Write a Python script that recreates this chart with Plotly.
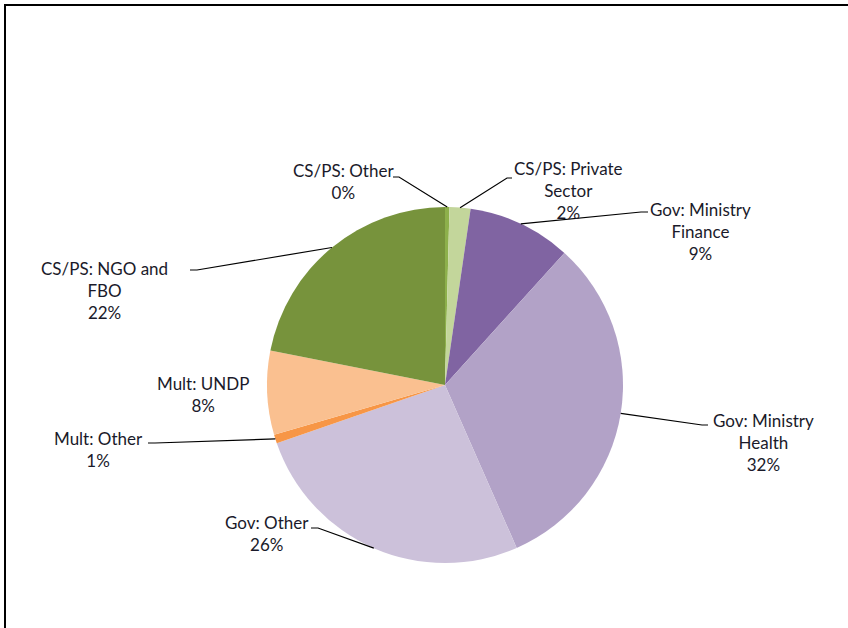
import math
import plotly.graph_objects as go

# Slice data (clockwise from 12 o'clock)
labels = ["CS/PS: Other", "CS/PS: Private Sector", "Gov: Ministry Finance",
          "Gov: Ministry Health", "Gov: Other", "Mult: Other", "Mult: UNDP",
          "CS/PS: NGO and FBO"]
values = [0.4, 1.9, 9.4, 31.7, 26.3, 0.8, 7.6, 21.9]
label_text = ["CS/PS: Other<br>0%", "CS/PS: Private<br>Sector<br>2%",
              "Gov: Ministry<br>Finance<br>9%", "Gov: Ministry<br>Health<br>32%",
              "Gov: Other<br>26%", "Mult: Other<br>1%", "Mult: UNDP<br>8%",
              "CS/PS: NGO and<br>FBO<br>22%"]
colors = ["#8DB04B", "#C3D69B", "#8064A2", "#B2A2C7", "#CCC1DA",
          "#F79646", "#FAC090", "#77933C"]

W, H = 848, 628
cx, cy, r = 445, 385, 178

# label centre, elbow and end of leader line (pixels); None = no leader
label_pos = [(343, 181), (568, 190), (700, 232), (763, 442),
             (267, 533), (98, 449), (203, 394), (104, 290)]
elbows = [(399, 177), (507, 178), (641, 212), (702, 425),
          (318, 528), (155, 443), None, (197, 270)]
ends = [(393, 177), (512, 178), (648, 212), (708, 425),
        (311, 528), (148, 443), None, (190, 270)]

def px(x, y):
    return x / W, 1 - y / H

fig = go.Figure(go.Pie(
    labels=labels, values=values, sort=False, direction="clockwise",
    rotation=0, textinfo="none", hoverinfo="label+percent",
    marker=dict(colors=colors, line=dict(width=0)),
    domain=dict(x=[(cx - r) / W, (cx + r) / W], y=[(H - cy - r) / H, (H - cy + r) / H]),
    showlegend=False))

shapes = []
annotations = []
total = sum(values)
cum = 0
for i, v in enumerate(values):
    mid = (cum + v / 2) / total * 2 * math.pi
    cum += v
    ax_, ay_ = cx + r * math.sin(mid), cy - r * math.cos(mid)
    if elbows[i] is not None:
        p0 = px(ax_, ay_)
        p1 = px(*elbows[i])
        p2 = px(*ends[i])
        shapes.append(dict(type="path", xref="paper", yref="paper",
                           path=f"M {p0[0]},{p0[1]} L {p1[0]},{p1[1]} L {p2[0]},{p2[1]}",
                           line=dict(color="#000000", width=1.2)))
    lx, ly = px(*label_pos[i])
    annotations.append(dict(x=lx, y=ly, xref="paper", yref="paper", text=label_text[i],
                            showarrow=False, xanchor="center", yanchor="middle",
                            align="center", font=dict(family="Lato", size=17, color="#1a1a2a")))

# chart frame (only left and top edges are visible)
fl, ft = px(5, 5)
shapes.append(dict(type="path", xref="paper", yref="paper",
                   path=f"M {fl},-0.05 L {fl},{ft} L 1.05,{ft}",
                   line=dict(color="#000000", width=2)))

fig.update_layout(width=W, height=H, margin=dict(l=0, r=0, t=0, b=0),
                  paper_bgcolor="white", plot_bgcolor="white",
                  shapes=shapes, annotations=annotations)

fig.write_html("out.html", config={"displayModeBar": False},
               post_script="document.body.style.margin='0px';")
